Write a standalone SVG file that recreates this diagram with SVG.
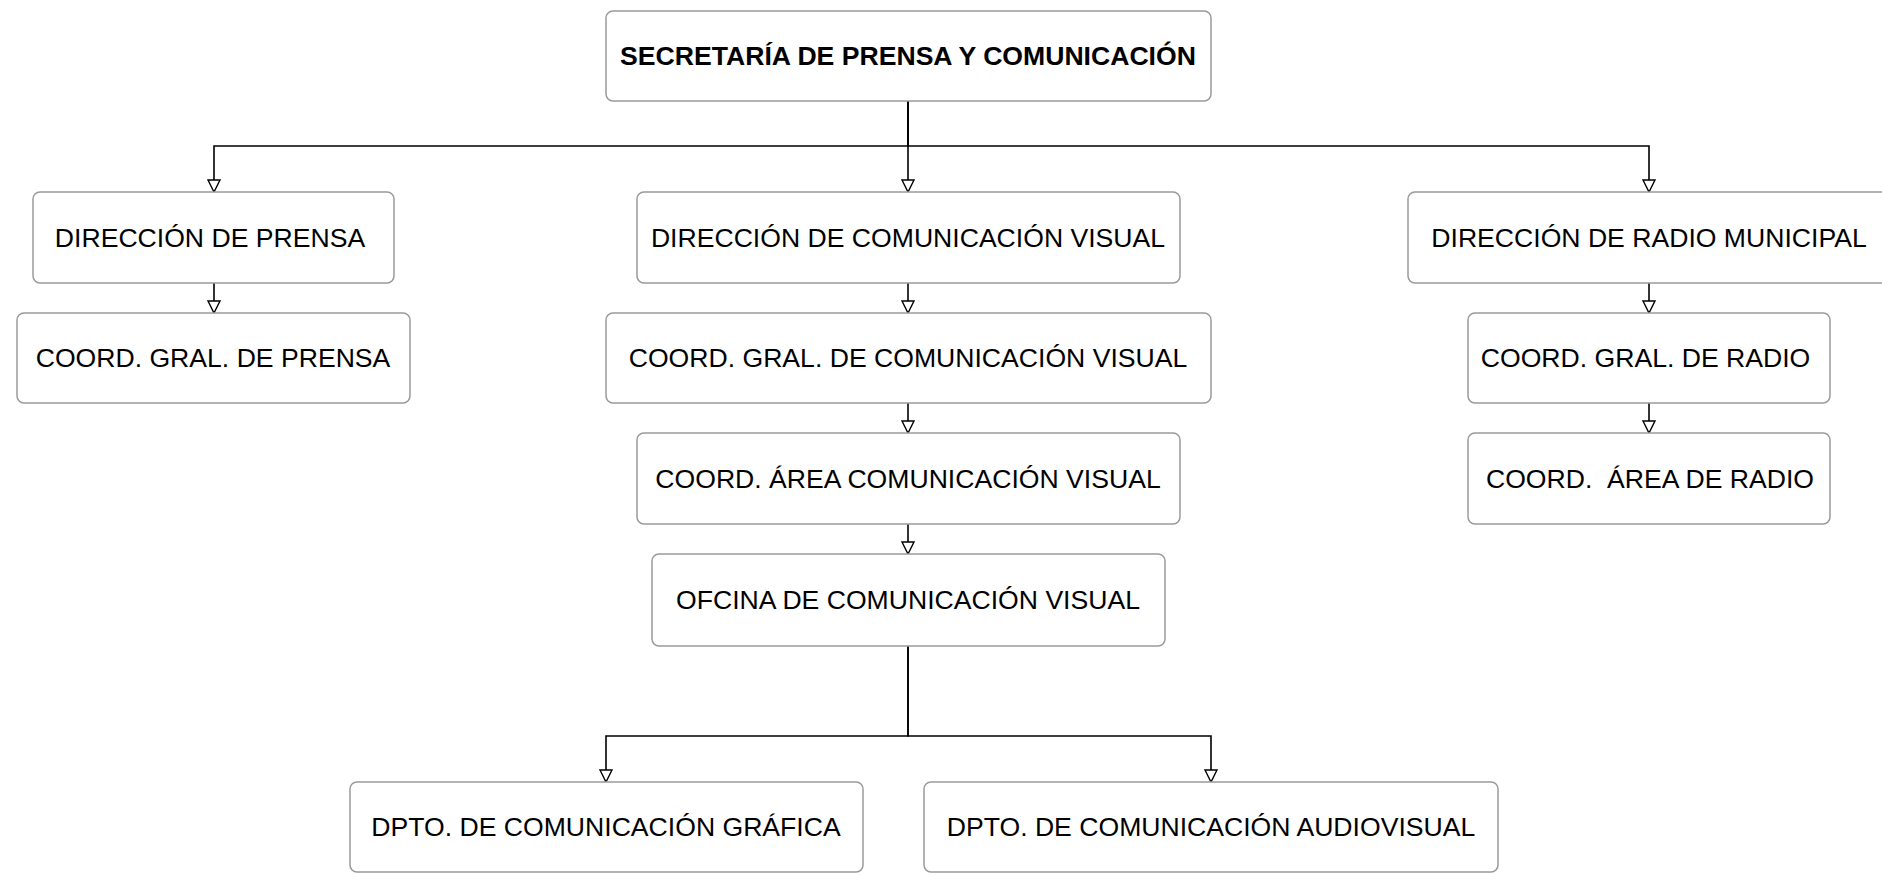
<svg xmlns="http://www.w3.org/2000/svg" width="1882" height="875" viewBox="0 0 1882 875">
<style>
.box{fill:#ffffff;stroke:#9a9a9a;stroke-width:1.5}
.t{font-family:"Liberation Sans",Arial,sans-serif;font-size:26.6px;fill:#000;text-anchor:middle}
.b{font-weight:bold}
.c{fill:none;stroke:#000;stroke-width:1.6;marker-end:url(#arr)}
</style>
<defs>
<marker id="arr" markerUnits="userSpaceOnUse" viewBox="-1 -7 14 14" markerWidth="14" markerHeight="14" refX="12" refY="0" orient="auto">
<path d="M0,-6 L12,0 L0,6 Z" fill="#fff" stroke="#000" stroke-width="1.4"/>
</marker>
</defs>
<rect width="1882" height="875" fill="#fff"/>
<g id="connectors">
<path class="c" d="M908,101 V146 H214 V192"/>
<path class="c" d="M908,101 V192"/>
<path class="c" d="M908,101 V146 H1649 V192"/>
<path class="c" d="M214,283 V313"/>
<path class="c" d="M908,283 V313"/>
<path class="c" d="M1649,283 V313"/>
<path class="c" d="M908,403 V433"/>
<path class="c" d="M1649,403 V433"/>
<path class="c" d="M908,524 V554"/>
<path class="c" d="M908,646 V736 H606 V782"/>
<path class="c" d="M908,646 V736 H1211 V782"/>
</g>
<g id="secretaria"><rect class="box" x="606" y="11" width="605" height="90" rx="7"/><text class="t b" x="908" y="65">SECRETARÍA DE PRENSA Y COMUNICACIÓN</text></g>
<g id="dir-prensa"><rect class="box" x="33" y="192" width="361" height="91" rx="7"/><text class="t" x="210" y="247">DIRECCIÓN DE PRENSA</text></g>
<g id="dir-com-visual"><rect class="box" x="637" y="192" width="543" height="91" rx="7"/><text class="t" x="908" y="247">DIRECCIÓN DE COMUNICACIÓN VISUAL</text></g>
<g id="dir-radio"><rect class="box" x="1408" y="192" width="482" height="91" rx="7"/><text class="t" x="1649" y="247">DIRECCIÓN DE RADIO MUNICIPAL</text></g>
<g id="coord-gral-prensa"><rect class="box" x="17" y="313" width="393" height="90" rx="7"/><text class="t" x="213" y="367">COORD. GRAL. DE PRENSA</text></g>
<g id="coord-gral-com-visual"><rect class="box" x="606" y="313" width="605" height="90" rx="7"/><text class="t" x="908" y="367">COORD. GRAL. DE COMUNICACIÓN VISUAL</text></g>
<g id="coord-gral-radio"><rect class="box" x="1468" y="313" width="362" height="90" rx="7"/><text class="t" x="1645.5" y="367">COORD. GRAL. DE RADIO</text></g>
<g id="coord-area-com-visual"><rect class="box" x="637" y="433" width="543" height="91" rx="7"/><text class="t" x="908" y="488">COORD. ÁREA COMUNICACIÓN VISUAL</text></g>
<g id="coord-area-radio"><rect class="box" x="1468" y="433" width="362" height="91" rx="7"/><text class="t" x="1650" y="488" xml:space="preserve">COORD.  ÁREA DE RADIO</text></g>
<g id="oficina"><rect class="box" x="652" y="554" width="513" height="92" rx="7"/><text class="t" x="908" y="609">OFCINA DE COMUNICACIÓN VISUAL</text></g>
<g id="dpto-grafica"><rect class="box" x="350" y="782" width="513" height="90" rx="7"/><text class="t" x="606" y="836">DPTO. DE COMUNICACIÓN GRÁFICA</text></g>
<g id="dpto-audiovisual"><rect class="box" x="924" y="782" width="574" height="90" rx="7"/><text class="t" x="1211" y="836">DPTO. DE COMUNICACIÓN AUDIOVISUAL</text></g>
</svg>
